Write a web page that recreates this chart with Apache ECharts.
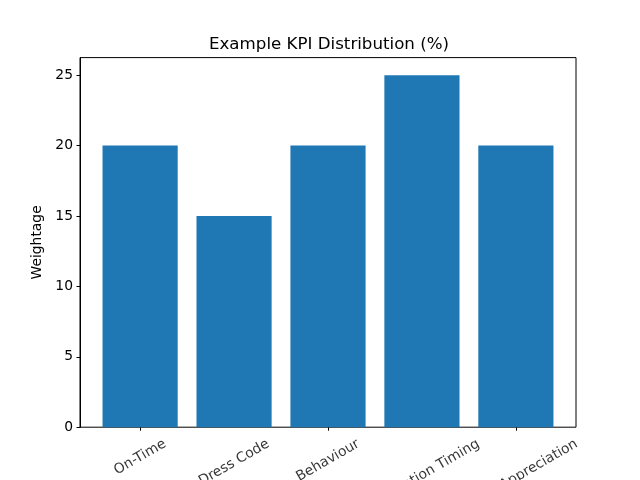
<!DOCTYPE html>
<html>
<head>
<meta charset="utf-8">
<script src="https://cdn.jsdelivr.net/npm/echarts@6/dist/echarts.min.js"></script>
<style>html,body{margin:0;padding:0;background:#fff}#c{width:640px;height:480px}</style>
</head>
<body>
<div id="c"></div>
<script>
const categories = ['On-Time', 'Dress Code', 'Behaviour', 'Completion Timing', 'Patient Appreciation'];
const weights = [20, 15, 20, 25, 20];
const chartTitle = 'Example KPI Distribution (%)';
const yName = 'Weightage';

const FONT = '"DejaVu Sans", sans-serif';
const FS = 13.89;
const cv = document.createElement('canvas').getContext('2d');
cv.font = FS + 'px "DejaVu Sans"';
const s30 = 0.5, c30 = Math.sqrt(3) / 2;
function labelDrop(name) {
  const w = cv.measureText(name).width;
  const h = 15.5;
  const H = w * s30 + h * c30;
  return 9 + H / 2;
}
const labelData = categories.map(function (name, i) {
  return { value: [i, 0], name: name };
});

const axL = 80, axT = 57.6, axW = 496, axH = 369.6;
const lo = -0.64, hi = 4.64;
const unit = axW / (hi - lo);
const barLeft = axL + (-0.5 - lo) * unit;

const chart = echarts.init(document.getElementById('c'), null, { renderer: 'canvas' });
chart.setOption({
  animation: false,
  backgroundColor: '#fff',
  title: {
    text: chartTitle, left: axL + axW / 2 - 4, top: 31, textAlign: 'center',
    textStyle: { fontFamily: FONT, fontSize: 16.67, fontWeight: 'normal', color: '#000' }
  },
  grid: [
    { left: axL, top: axT, width: axW, height: axH, show: true, borderColor: '#000', borderWidth: 1, backgroundColor: 'transparent', containLabel: false, outerBoundsMode: 'none' },
    { left: barLeft, top: axT, width: unit * 5, height: axH, containLabel: false, outerBoundsMode: 'none' }
  ],
  xAxis: [
    { gridIndex: 0, type: 'value', min: 0, max: 1, show: false },
    {
      gridIndex: 1, type: 'category', data: categories,
      axisLine: { show: false },
      axisTick: { show: true, alignWithLabel: true, length: 3.5, lineStyle: { color: '#000', width: 1 } },
      axisLabel: { show: false },
      splitLine: { show: false }
    }
  ],
  yAxis: [
    {
      gridIndex: 0, type: 'value', min: 0, max: 26.25, interval: 5,
      axisLine: { show: true, lineStyle: { color: '#000', width: 1 } },
      axisTick: { show: true, length: 3.5, lineStyle: { color: '#000', width: 1 } },
      axisLabel: { margin: 7, fontFamily: FONT, fontSize: FS, color: '#000', showMaxLabel: false },
      splitLine: { show: false },
      name: yName, nameLocation: 'middle', nameGap: 33,
      nameTextStyle: { fontFamily: FONT, fontSize: FS, color: '#000' }
    },
    { gridIndex: 1, type: 'value', min: 0, max: 26.25, show: false }
  ],
  series: [{
    type: 'bar', xAxisIndex: 1, yAxisIndex: 1, data: weights,
    barWidth: '80%', itemStyle: { color: '#1f77b4' }
  }, {
    type: 'scatter', xAxisIndex: 1, yAxisIndex: 1, data: labelData,
    symbolSize: 0, silent: true, clip: false,
    label: {
      show: true, position: 'inside', rotate: 30, align: 'center', verticalAlign: 'middle',
      formatter: function (p) { return p.name; },
      fontFamily: FONT, fontSize: FS, color: '#000'
    },
    labelLayout: function (p) {
      const D = labelDrop(categories[p.dataIndex]);
      return { dx: -D * s30, dy: D * c30, hideOverlap: false };
    }
  }]
});
</script>
</body>
</html>
